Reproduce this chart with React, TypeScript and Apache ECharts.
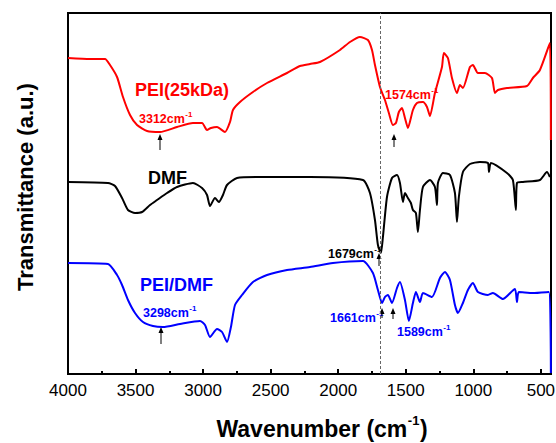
import React, { useEffect, useRef } from "react";
import * as echarts from "echarts";

// Wavenumber (cm-1), transmittance (a.u.)
const pei25kDa: number[][] = [
  [4000, 316], [3837, 315], [3726, 315], [3689, 309], [3637, 297], [3593, 277], [3541, 259],
  [3489, 249], [3415, 243], [3319, 242], [3193, 247], [3075, 251], [3008, 251], [2971, 244],
  [2942, 246], [2897, 247], [2838, 242], [2801, 252], [2779, 264], [2727, 272], [2631, 282],
  [2527, 291], [2379, 301], [2283, 308], [2209, 310], [2135, 312], [1987, 324], [1913, 332],
  [1839, 337], [1780, 334], [1750, 324], [1728, 309], [1691, 287], [1654, 274], [1625, 261],
  [1595, 249], [1573, 251], [1551, 262], [1528, 266], [1506, 256], [1484, 246], [1447, 264],
  [1417, 271], [1373, 272], [1343, 267], [1321, 258], [1284, 281], [1232, 307], [1218, 321],
  [1188, 316], [1158, 296], [1121, 281], [1099, 289], [1077, 286], [1025, 307], [1003, 309],
  [966, 301], [914, 301], [862, 296], [840, 281], [818, 284], [751, 286], [603, 288],
  [559, 296], [507, 304], [433, 331], [426, 234],
];

const dmf: number[][] = [
  [4000, 192], [3704, 191], [3652, 188], [3600, 176], [3556, 164], [3504, 161], [3452, 162],
  [3393, 169], [3341, 174], [3267, 181], [3193, 187], [3075, 191], [3008, 186], [2971, 179],
  [2949, 168], [2912, 176], [2883, 172], [2853, 179], [2823, 189], [2749, 196], [2579, 197],
  [2209, 197], [1817, 194], [1765, 181], [1728, 154], [1706, 129], [1684, 121], [1669, 137],
  [1639, 177], [1602, 196], [1565, 199], [1543, 191], [1521, 172], [1506, 181], [1484, 176],
  [1462, 171], [1447, 164], [1425, 161], [1410, 142], [1395, 164], [1373, 187], [1321, 194],
  [1284, 187], [1269, 169], [1262, 191], [1225, 201], [1173, 199], [1136, 181], [1121, 152],
  [1107, 177], [1077, 202], [1025, 210], [951, 212], [892, 211], [884, 202], [870, 211],
  [751, 201], [707, 194], [685, 164], [677, 191], [633, 192], [507, 194], [455, 202],
  [433, 197],
];

const peiDmf: number[][] = [
  [4000, 111], [3704, 110], [3637, 99], [3600, 89], [3556, 74], [3504, 61], [3445, 52],
  [3371, 48], [3297, 47], [3171, 50], [3023, 53], [2986, 49], [2949, 37], [2897, 45],
  [2860, 42], [2823, 32], [2794, 47], [2764, 69], [2712, 79], [2631, 92], [2527, 99],
  [2379, 104], [2209, 107], [2039, 111], [1817, 113], [1743, 101], [1706, 84], [1676, 71],
  [1654, 77], [1632, 79], [1602, 71], [1565, 86], [1543, 92], [1506, 74], [1477, 53],
  [1447, 71], [1425, 82], [1395, 72], [1373, 81], [1306, 77], [1247, 96], [1210, 102],
  [1173, 94], [1136, 69], [1114, 61], [1077, 71], [1040, 84], [1003, 91], [966, 82],
  [892, 79], [855, 81], [781, 75], [692, 85], [677, 72], [663, 82], [559, 81], [441, 82],
  [426, 1],
];

const majorTicks = [4000, 3500, 3000, 2500, 2000, 1500, 1000, 500];
const minorTicks = [3750, 3250, 2750, 2250, 1750, 1250, 750];
const referenceLine = 1690;

const FONT = '"Liberation Sans", Arial, Helvetica, sans-serif';

function measure(text: string, size: number, bold: boolean): number {
  const ctx = document.createElement("canvas").getContext("2d");
  if (!ctx) return text.length * size * 0.55;
  ctx.font = `${bold ? "bold " : ""}${size}px ${FONT}`;
  return ctx.measureText(text).width;
}

function txt(x: number, y: number, text: string, color: string, size: number, align = "left") {
  return {
    type: "text",
    x,
    y,
    silent: true,
    style: {
      text,
      fill: color,
      fontSize: size,
      fontWeight: "bold",
      fontFamily: FONT,
      align,
      verticalAlign: "middle",
    },
  };
}

function supLabel(x: number, y: number, main: string, color: string, size: number, supSize: number) {
  const w = measure(main, size, true);
  return [txt(x, y, main, color, size), txt(x + w + 0.5, y - size * 0.38, "-1", color, supSize)];
}

function arrow(x: number, top: number, bottom: number) {
  return [
    {
      type: "line",
      silent: true,
      shape: { x1: x, y1: top + 4, x2: x, y2: bottom },
      style: { stroke: "#000", lineWidth: 1 },
    },
    {
      type: "polygon",
      silent: true,
      shape: { points: [[x, top], [x - 2.5, top + 6], [x + 2.5, top + 6]] },
      style: { fill: "#000" },
    },
  ];
}

export default function App() {
  const ref = useRef<HTMLDivElement>(null);

  useEffect(() => {
    if (!ref.current) return;
    const chart = echarts.init(ref.current, null, { renderer: "svg" });

    const titleMain = "Wavenumber (cm";
    const tSize = 23;
    const tY = 429;
    const wMain = measure(titleMain, tSize, true);
    const wSup = measure("-1", 13, true);
    const wClose = measure(")", tSize, true);
    const tX = 322 - (wMain + wSup + wClose + 1) / 2;

    const graphic: any[] = [
      {
        type: "text",
        x: 25,
        y: 187,
        rotation: Math.PI / 2,
        silent: true,
        style: {
          text: "Transmittance (a.u.)",
          fill: "#000",
          fontSize: 22,
          fontWeight: "bold",
          fontFamily: FONT,
          align: "center",
          verticalAlign: "middle",
        },
      },
      txt(tX, tY, titleMain, "#000", tSize),
      txt(tX + wMain + 0.5, tY - 9, "-1", "#000", 13),
      txt(tX + wMain + wSup + 1, tY, ")", "#000", tSize),
      txt(135, 90, "PEI(25kDa)", "#ff0000", 18),
      txt(148, 178, "DMF", "#000", 18),
      txt(140, 285, "PEI/DMF", "#0000ff", 18),
      ...supLabel(139, 119, "3312cm", "#ff0000", 12.5, 8),
      ...supLabel(385, 95, "1574cm", "#ff0000", 12.5, 8),
      ...supLabel(328, 254, "1679cm", "#000", 12.5, 8),
      ...supLabel(143, 313, "3298cm", "#0000ff", 12.5, 8),
      ...supLabel(330, 318, "1661cm", "#0000ff", 12.5, 8),
      ...supLabel(397, 332, "1589cm", "#0000ff", 12.5, 8),
      ...arrow(160, 134, 150),
      ...arrow(394, 134, 147),
      ...arrow(379, 253, 266),
      ...arrow(161, 327, 344),
      ...arrow(382, 308, 318),
      ...arrow(393, 308, 319),
    ];

    const lineSeries = (name: string, data: number[][], color: string, extra: any = {}) => ({
      name,
      type: "line",
      data,
      showSymbol: false,
      smooth: 0.2,
      lineStyle: { color, width: 2 },
      itemStyle: { color },
      z: 3,
      ...extra,
    });

    chart.setOption({
      animation: false,
      backgroundColor: "#fff",
      grid: {
        left: 68,
        right: 5,
        top: 13,
        bottom: 69,
        show: true,
        borderColor: "#000",
        borderWidth: 2,
        backgroundColor: "transparent",
        containLabel: false,
        outerBoundsMode: "none",
      },
      xAxis: [
        {
          type: "value",
          inverse: true,
          min: 425,
          max: 4000,
          axisLine: { show: true, lineStyle: { color: "#000", width: 2 } },
          axisTick: {
            show: true,
            inside: true,
            length: 5,
            lineStyle: { color: "#000", width: 2 },
            customValues: majorTicks,
          },
          axisLabel: {
            show: true,
            color: "#000",
            fontSize: 17,
            fontFamily: FONT,
            margin: 8,
            customValues: majorTicks,
            formatter: (v: number) => String(v),
          },
          splitLine: { show: false },
        },
        {
          type: "value",
          inverse: true,
          min: 425,
          max: 4000,
          position: "bottom",
          axisLine: { show: false },
          axisTick: {
            show: true,
            inside: true,
            length: 3,
            lineStyle: { color: "#000", width: 2 },
            customValues: minorTicks,
          },
          axisLabel: { show: false },
          splitLine: { show: false },
        },
      ],
      yAxis: {
        type: "value",
        min: 0,
        max: 361,
        axisLine: { show: true, lineStyle: { color: "#000", width: 2 } },
        axisTick: { show: false },
        axisLabel: { show: false },
        splitLine: { show: false },
      },
      series: [
        lineSeries("PEI(25kDa)", pei25kDa, "#ff0000", {
          markLine: {
            silent: true,
            symbol: "none",
            label: { show: false },
            lineStyle: { color: "#666", type: [3, 2], width: 1 },
            data: [{ xAxis: referenceLine }],
          },
        }),
        lineSeries("DMF", dmf, "#000000"),
        lineSeries("PEI/DMF", peiDmf, "#0000ff"),
      ],
      graphic,
    });

    return () => chart.dispose();
  }, []);

  return (
    <div
      ref={ref}
      style={{ position: "absolute", left: 0, top: 0, width: 556, height: 443 }}
    />
  );
}
